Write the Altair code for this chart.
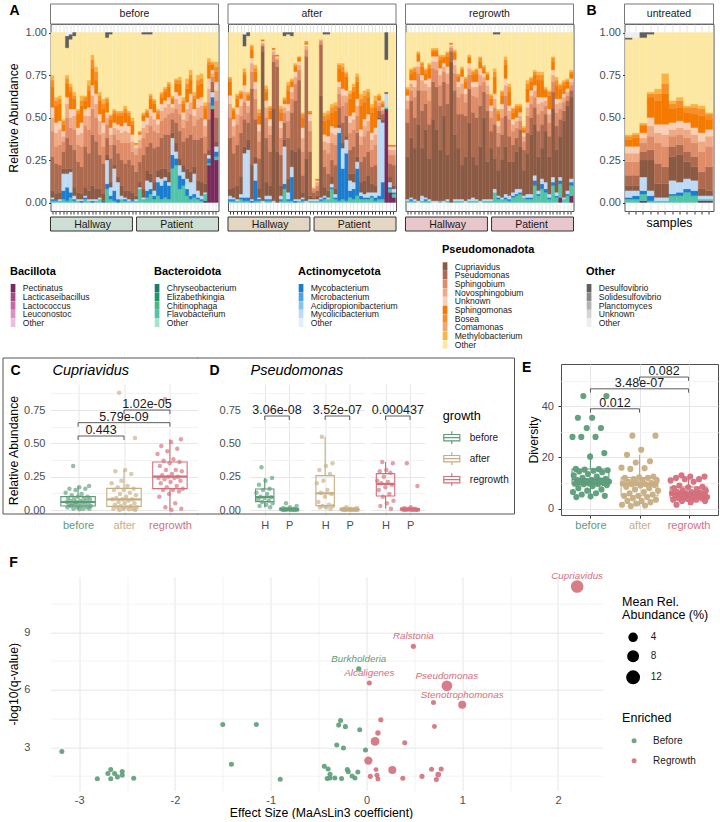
import altair as alt
import numpy as np
import pandas as pd

FONT = "Liberation Sans"

# ---------------- groups / colours ----------------
GROWTH = ["before", "after", "regrowth"]
G_COL = ["#5c9c79", "#c8ad82", "#d36f7b"]
STRIP_FILL = ["#cddfd4", "#e3d6c3", "#e7c7cc"]
LOCATIONS = ["Hallway", "Patient"]

PHYLA = ["Bacillota", "Bacteroidota", "Actinomycetota", "Pseudomonadota", "Other"]
TAXA = [
    ["Pectinatus", "Lacticaseibacillus", "Lactococcus", "Leuconostoc", "Other"],
    ["Chryseobacterium", "Elizabethkingia", "Chitinophaga", "Flavobacterium", "Other"],
    ["Mycobacterium", "Microbacterium", "Acidipropionibacterium", "Mycolicibacterium", "Other"],
    ["Cupriavidus", "Pseudomonas", "Sphingobium", "Novosphingobium", "Unknown",
     "Sphingomonas", "Bosea", "Comamonas", "Methylobacterium", "Other"],
    ["Desulfovibrio", "Solidesulfovibrio", "Planctomyces", "Unknown", "Other"],
]
TAXA_COL = [
    ["#7a2b5e", "#a44a86", "#c46aa6", "#dc90c4", "#eebfdc"],
    ["#1b7d68", "#1a9a6c", "#4cb687", "#52c4a8", "#a8e0d2"],
    ["#1c7cd0", "#4fa3e3", "#86c3ef", "#bedbf5", "#e3eefa"],
    ["#8b5a44", "#ad6a4f", "#df8c69", "#efaa85", "#f8d0b6",
     "#f47a00", "#f98e26", "#f6a56b", "#fab444", "#fde8a3"],
    ["#5e5e5e", "#8a8a8a", "#b2b2b2", "#d5d5d5", "#eeeeee"],
]
KEYS = [("pec", 0, 0), ("bcd", 1, 3), ("myc", 2, 0), ("myl", 2, 3),
        ("cup", 3, 0), ("pse", 3, 1), ("sphb", 3, 2), ("nov", 3, 3), ("unk", 3, 4),
        ("sphm", 3, 5), ("bos", 3, 6), ("met", 3, 8), ("oth", 3, 9),
        ("des", 4, 0), ("oo", 4, 4)]
FULL_KEYS = ["bcd", "myc", "myl", "cup", "pse", "sphb", "nov", "unk", "sphm", "bos", "met"]
SPARSE_KEYS = ["pec", "des", "oo"]

# ---------------- Panel A / B : relative abundance (%) per sample ----------------
BEFORE = dict(
    bcd=[1,1,1,2,1,3,1,1,0,2,1,0,1,2,0,8,2,1,0,2,1,1,1] + [1,8,2,3,5,2,4,2,3,2,20,22,8,10,4,2,3,2,1,4,1,2,2],
    myc=[1,1,0,5,8,3,1,0,1,1,0,1,0,0,1,3,2,6,2,0,1,0,1] + [0,0,0,4,3,2,8,8,10,8,8,4,8,4,4,2,2,1,1,0,3,5,3],
    myl=[1,0,1,10,8,12,2,1,1,1,1,1,1,1,0,14,5,13,10,2,1,1,0] + [1,1,1,6,4,3,3,4,2,2,10,4,6,4,6,8,12,4,2,1,2,3,3],
    cup=[4,3,4,3,3,2,5,4,3,5,5,8,6,5,4,3,3,2,3,6,4,5,4] + [2,3,5,6,5,5,4,6,5,6,3,5,4,4,6,6,4,6,8,5,3,1,3],
    pse=[20,18,16,10,18,14,22,18,16,24,22,30,28,20,18,10,14,12,14,15,16,18,16] + [14,12,20,14,18,20,14,18,20,22,8,12,16,14,18,22,16,24,26,18,18,5,14],
    sphb=[15,10,12,6,12,10,12,10,12,12,14,15,14,12,10,8,8,6,8,10,12,10,8] + [10,8,10,8,10,10,8,10,10,12,4,8,10,8,10,12,8,12,12,10,10,3,10],
    nov=[8,8,9,3,8,6,8,6,8,6,8,8,8,8,8,4,6,4,6,6,7,6,6] + [4,5,6,5,6,7,5,6,6,6,3,6,6,5,7,7,6,7,7,6,8,2,6],
    unk=[6,6,5,3,4,5,4,4,6,4,5,6,6,4,6,3,4,3,3,4,5,4,4] + [2,3,4,4,4,4,3,4,4,4,2,4,5,4,4,5,4,5,5,4,6,2,5],
    sphm=[12,10,10,4,8,10,6,8,10,5,10,10,8,8,8,6,5,5,5,6,6,6,6] + [1,1,3,3,6,5,3,4,5,6,3,5,7,5,8,8,6,8,8,6,8,3,6],
    bos=[4,3,3,2,3,3,2,2,3,2,3,5,5,3,3,2,2,2,2,2,2,2,2] + [0,1,1,1,2,2,2,2,2,2,1,2,2,2,3,3,2,3,3,2,2,1,3],
    met=[3,2,2,1,2,2,2,1,3,1,3,3,3,2,3,1,1,1,1,1,2,1,2] + [0,0,1,1,1,1,1,1,1,1,1,1,2,2,3,3,2,3,3,2,2,1,3],
    pec={42: 1, 43: 22, 44: 55, 45: 25},
    des={4: 7, 5: 3, 6: 2, 15: 3, 16: 1, 25: 1, 26: 1, 27: 1},
    oo={4: 2, 5: 1},
)
AFTER = dict(
    bcd=[1,1,1,2,1,1,0,1,1,0,1,1,0,0,1,8,1,1,0,1,1,0,1] + [1,1,1,2,2,8,2,1,2,1,3,2,4,2,2,2,3,1,2,2,1,2,2],
    myc=[1,1,0,1,2,2,1,12,1,0,1,1,0,0,1,3,1,14,1,0,1,0,0] + [0,0,1,1,0,1,1,40,18,28,4,6,16,2,1,1,1,2,2,10,0,1,1],
    myl=[2,1,1,2,26,28,1,10,1,1,2,2,1,0,2,22,4,6,1,1,1,1,1] + [1,1,1,1,1,2,2,3,12,8,6,4,4,2,2,3,2,3,45,35,8,3,2],
    cup=[4,6,8,10,4,6,20,4,5,88,8,6,54,30,6,4,8,10,28,30,3,25,2] + [1,2,60,5,4,4,3,2,3,2,4,5,3,6,8,10,5,4,1,2,1,3,2],
    pse=[30,20,24,26,16,10,45,22,18,3,26,20,28,50,18,10,24,22,30,40,10,60,26] + [3,3,30,12,10,10,14,10,12,12,14,16,14,12,14,14,10,12,4,3,0,8,12],
    sphb=[12,10,12,10,10,6,10,12,10,1,12,10,4,4,10,6,10,8,10,6,14,4,12] + [2,3,2,10,12,10,12,8,10,8,10,10,10,10,12,12,10,12,3,2,0,5,6],
    nov=[8,6,6,6,6,4,5,6,6,1,6,5,2,1,6,3,6,4,4,3,8,2,6] + [1,2,1,5,6,6,6,4,6,4,6,6,6,5,6,6,6,6,2,1,0,3,3],
    unk=[5,4,4,4,4,3,3,4,4,1,4,4,1,1,4,2,4,3,3,2,6,1,4] + [0,1,0,4,4,4,4,3,4,3,4,4,4,4,4,4,4,4,1,1,0,2,2],
    sphm=[8,5,5,3,6,3,5,6,5,1,5,5,1,1,5,2,8,3,3,2,6,1,1] + [0,1,0,8,10,8,10,8,10,8,10,12,10,14,10,10,12,12,2,2,0,1,1],
    bos=[2,1,2,1,2,1,2,2,2,0,2,2,0,0,2,1,3,1,1,1,2,1,1] + [0,0,0,3,3,3,3,2,3,2,3,3,3,4,4,3,3,4,1,1,0,0,0],
    met=[1,1,1,1,2,1,1,2,2,0,2,1,0,0,2,1,2,1,1,0,1,0,0] + [0,0,0,2,2,2,2,1,2,1,2,2,2,3,3,2,2,3,1,1,0,0,0],
    pec={43: 55, 44: 6, 45: 3},
    des={4: 7, 5: 2, 15: 2, 16: 1, 17: 2, 26: 1, 27: 1, 43: 16},
    oo={4: 1},
)
REGROWTH = dict(
    bcd=[1,1,1,0,1,1,1,0,0,1,0,1,0,1,1,1,0,1,1,1,0,1,1] + [1,6,2,2,2,1,3,4,5,3,2,2,10,4,8,6,2,10,3,8,2,4,6],
    myc=[0,1,0,0,0,1,0,0,0,0,0,0,0,0,0,0,0,0,0,0,0,0,0] + [0,0,1,0,1,1,1,1,1,0,1,1,3,1,3,2,1,2,1,2,0,1,2],
    myl=[1,1,1,1,3,1,1,1,1,0,1,1,0,1,1,1,1,1,2,1,1,1,1] + [1,2,1,1,2,2,2,3,2,1,2,2,3,2,3,4,2,3,2,2,1,2,2],
    cup=[25,35,30,45,28,40,24,48,42,30,50,26,83,38,30,20,26,45,24,20,32,48,22] + [30,18,15,22,28,20,18,22,25,15,24,35,30,20,18,30,22,40,25,24,45,50,48],
    pse=[20,22,18,20,22,15,20,22,25,26,20,30,6,26,20,30,24,20,26,28,24,15,30] + [10,20,14,15,18,15,10,8,10,12,12,10,10,15,14,10,12,10,14,10,6,3,4],
    sphb=[8,6,12,10,12,8,14,8,10,12,6,12,2,10,10,12,8,8,10,12,12,6,10] + [8,10,8,10,12,10,8,6,5,5,10,8,6,10,8,5,8,6,8,6,5,3,3],
    nov=[5,4,6,4,6,4,8,4,5,6,3,6,1,5,6,6,5,4,5,6,6,3,5] + [4,5,4,5,6,5,4,4,3,3,5,5,4,6,5,3,5,4,5,4,3,2,2],
    unk=[3,2,4,3,3,2,5,3,3,4,2,4,1,3,3,4,3,3,3,3,4,2,3] + [3,3,3,3,4,3,3,2,2,2,3,3,3,4,3,2,3,3,3,2,2,2,2],
    sphm=[3,4,5,4,5,4,6,3,3,5,3,6,1,4,3,4,4,3,4,5,4,3,3] + [4,10,4,5,8,8,4,5,3,2,8,5,6,10,10,4,8,5,8,6,5,4,3],
    bos=[1,2,2,1,2,2,2,1,1,2,1,2,0,1,1,1,2,1,2,2,2,1,1] + [2,3,2,2,3,3,2,2,1,1,3,2,2,3,3,1,2,2,3,2,2,1,1],
    met=[1,1,1,1,1,1,1,1,1,1,1,1,0,1,1,1,1,1,1,1,1,1,1] + [1,2,1,1,2,2,1,1,1,1,2,1,1,2,2,1,1,1,2,1,1,1,1],
    pec={42: 3, 45: 4},
    des={24: 1, 25: 1},
    oo={},
)
UNTREATED = dict(
    bcd=[2,2,4,1,1,1,4,4,6,4,1,1],
    myc=[1,2,2,3,0,0,1,2,2,3,0,0],
    myl=[4,3,8,3,2,2,8,6,6,6,2,2],
    cup=[3,3,10,18,8,8,14,16,10,8,4,3],
    pse=[6,6,5,6,12,10,6,6,6,6,10,14],
    sphb=[8,8,5,8,12,12,6,6,8,8,12,12],
    nov=[5,5,3,6,6,7,4,4,5,5,6,6],
    unk=[4,4,3,5,5,6,4,4,4,4,5,4],
    sphm=[4,5,4,12,14,18,8,8,6,8,10,6],
    bos=[2,2,1,2,4,6,3,4,3,4,4,3],
    met=[1,1,1,1,3,6,2,2,1,2,2,1],
    pec={2: 1, 10: 1, 11: 1},
    des={0: 1, 2: 3, 3: 1},
    oo={0: 3, 1: 3},
)

# ---------------- Panel C : Cupriavidus relative abundance ----------------
CUP_BEFORE = [0.33, 0.18, 0.17, 0.16, 0.16, 0.15, 0.13, 0.12, 0.11, 0.10, 0.10, 0.09, 0.09, 0.08, 0.08,
              0.07, 0.07, 0.07, 0.06, 0.06, 0.06, 0.05, 0.05, 0.05, 0.04, 0.04, 0.04, 0.03, 0.03, 0.03,
              0.02, 0.02, 0.02, 0.01, 0.01, 0.01, 0.005]
CUP_AFTER = [0.88, 0.54, 0.30, 0.29, 0.27, 0.22, 0.20, 0.18, 0.17, 0.16, 0.15, 0.15, 0.13, 0.12, 0.11,
             0.10, 0.09, 0.08, 0.08, 0.08, 0.07, 0.06, 0.05, 0.05, 0.04, 0.03, 0.03, 0.02, 0.02, 0.02,
             0.01, 0.01, 0.01, 0.005, 0.0, 0.0]
CUP_REGROWTH = [0.83, 0.53, 0.51, 0.48, 0.46, 0.44, 0.42, 0.38, 0.37, 0.36, 0.35, 0.33, 0.30, 0.30, 0.29,
                0.27, 0.26, 0.25, 0.25, 0.24, 0.24, 0.23, 0.22, 0.21, 0.20, 0.18, 0.17, 0.16, 0.15, 0.15,
                0.14, 0.12, 0.10, 0.05, 0.02, 0.01, 0.0]
C_BRACKETS = [(1, 2, 0.555, "0.443"), (1, 3, 0.655, "5.79e-09"), (2, 3, 0.75, "1.02e-05")]

# ---------------- Panel D : Pseudomonas, Hallway (H) vs Patient (P) ----------------
PSE_H = [
    [0.32, 0.24, 0.22, 0.19, 0.16, 0.15, 0.13, 0.12, 0.10, 0.095, 0.09, 0.08, 0.07, 0.06, 0.05, 0.04, 0.03, 0.02],
    [0.55, 0.35, 0.33, 0.30, 0.27, 0.22, 0.20, 0.15, 0.13, 0.12, 0.10, 0.06, 0.04, 0.03, 0.03, 0.02, 0.02, 0.01],
    [0.36, 0.35, 0.30, 0.29, 0.28, 0.25, 0.22, 0.21, 0.20, 0.19, 0.17, 0.15, 0.12, 0.10, 0.07, 0.05, 0.03, 0.01],
]
PSE_P = [
    [0.05, 0.03, 0.02, 0.015, 0.01, 0.01, 0.008, 0.005, 0.005, 0.004, 0.003, 0.002, 0.002, 0.001, 0.001, 0.0, 0.0, 0.0],
    [0.02, 0.015, 0.01, 0.01, 0.008, 0.006, 0.005, 0.004, 0.003, 0.003, 0.002, 0.002, 0.001, 0.001, 0.0, 0.0, 0.0, 0.0],
    [0.35, 0.18, 0.02, 0.015, 0.01, 0.01, 0.008, 0.006, 0.005, 0.004, 0.003, 0.002, 0.002, 0.001, 0.0, 0.0, 0.0, 0.0],
]
D_PVALS = ["3.06e-08", "3.52e-07", "0.000437"]
D_BRACKET_Y = 0.705
SITES = ["H", "P"]

# ---------------- Panel E : diversity ----------------
DIV_BEFORE = [44, 44, 35.5, 35.5, 31.5, 31.5, 28, 28, 28, 21.7, 20.3,
              15.5, 15.4, 15.2, 15, 14.8, 14.5, 14.2, 13.5, 13, 12.5, 12, 11.6,
              11.2, 11.1, 11, 10.8, 10.6, 10.4, 10.2, 10, 9.8, 9.7, 9.6, 9.5, 9.2,
              8.8, 8, 7.5, 7, 6.5, 6, 5.5, 5, 4.8, 4.5]
DIV_AFTER = [28.5, 28.5, 23, 21, 18.5, 18, 16, 15.8, 15.5, 12.5, 12.2, 12, 12, 11.5, 11, 11, 10.5,
             10, 10, 9.8, 9.5, 9.5, 9.2, 9, 8.5, 8, 7.5, 7, 6.5, 6, 5.5, 5, 5, 4.5, 4, 3.5, 3, 3,
             2.5, 2, 1.5, 1.2, 1]
DIV_REGROWTH = [13, 12.5, 12.5, 12, 11.5, 11.5, 11, 10.5, 9, 8.5, 8.3, 8, 7.5, 7, 7, 6.5, 6.5, 6.2,
                6, 6, 5.8, 5.5, 5.5, 5, 5, 5, 4.5, 4.5, 4.2, 4, 4, 3.8, 3.5, 3.5, 3, 3, 2.5, 1.5]
E_BRACKETS = [(1, 2, 39, "0.012"), (1, 3, 46.8, "3.48e-07"), (2, 3, 51.4, "0.082")]

# ---------------- Panel F : MaAsLin3 ----------------
F_COEF = [-3.18, -2.81, -2.70, -2.67, -2.67, -2.63, -2.60, -2.55, -2.55, -2.43, -1.50, -1.15, -1.41, -0.90,
          -0.44, -0.40, -0.27, -0.29, -0.22, -0.31, -0.24, -0.07, -0.01, -0.38, -0.41, -0.38, -0.33, -0.26,
          -0.20, -0.19, -0.15, -0.12, -0.09, -0.08,
          2.20, 0.49, 0.03, 0.84, 1.00, 0.70, 0.15, 0.71, 0.12, 0.09, 0.40, 0.02, 0.27, 0.10, 0.11, 0.12,
          0.04, 0.38, 0.58, 0.68, 0.78, 0.75, 0.73]
F_NEGLOGQ = [2.78, 1.36, 1.64, 1.85, 1.36, 1.64, 1.46, 1.74, 1.55, 1.39, 4.19, 4.19, 2.12, 1.34,
             2.01, 1.87, 4.40, 4.16, 4.08, 3.12, 2.97, 3.92, 2.86, 1.60, 1.37, 1.40, 1.40, 1.37,
             1.84, 1.73, 1.51, 1.40, 1.72, 7.09,
             11.39, 8.27, 6.36, 6.21, 5.22, 5.34, 4.44, 4.09, 3.75, 3.31, 3.24, 2.31, 1.82, 1.84, 1.54, 1.35,
             1.49, 1.39, 1.49, 1.86, 1.87, 1.58, 1.32]
F_ABUND = [0.5] * 33 + [0.8] + [12.5, 0.6, 0.5, 8.5, 4.0, 0.5, 0.6, 0.4, 0.8, 5.2, 0.5, 4.3, 4.0, 0.4, 0.5,
                               0.4, 0.6, 0.5, 0.6, 0.5, 0.5, 1.2, 0.5]
F_ENRICHED = ["Before"] * 34 + ["Regrowth"] * 23
F_LABEL = [""] * 33 + ["Burkholderia"] + ["Cupriavidus", "Ralstonia", "Alcaligenes", "Pseudomonas",
                                          "Stenotrophomonas"] + [""] * 18


# ======================= helpers =======================
def jitter(k):
    return ((k * 0.6180339887 + 0.31) % 1.0) * 2 - 1


def long_df(fd, n):
    rows = []
    for i in range(n):
        vals = {k: fd[k][i] for k in FULL_KEYS}
        for k in SPARSE_KEYS:
            vals[k] = fd.get(k, {}).get(i, 0)
        vals["oth"] = max(100 - sum(vals.values()), 0)
        for key, p, t in KEYS:
            v = vals[key]
            if v > 0:
                rows.append(dict(sample=i, taxon=TAXA[p][t], value=v / 100.0,
                                 order=p * 10 + t, hex=TAXA_COL[p][t]))
    return pd.DataFrame(rows)


def text_layer(txt, x, y, size=14, weight="bold", style="normal", align="left", color="black"):
    return alt.Chart(pd.DataFrame({"t": [txt]})).mark_text(
        fontSize=size, fontWeight=weight, fontStyle=style, align=align, baseline="middle", color=color
    ).encode(text="t:N", x=alt.value(x), y=alt.value(y))


def frame_rule(x1, x2, y1, y2):
    # one edge of the outline framing panels C and D
    return alt.Chart(pd.DataFrame({"t": ["edge"]})).mark_rule(color="#555", strokeWidth=1).encode(
        x=alt.value(x1), x2=alt.value(x2), y=alt.value(y1), y2=alt.value(y2))


def panel_a(name, fd, n, width, strip_fill=None, ylab=False, ytitle=None, letter=None, letter_x=-41,
            xtitle=None):
    df = long_df(fd, n)
    if ylab:
        ykw = dict(values=[0, 0.25, 0.5, 0.75, 1], format=".2f", tickSize=2, tickColor="#333",
                   labelFontSize=11, labelColor="#4d4d4d", labelPadding=2, domain=False, grid=False,
                   titleFontSize=12.3, titleFontWeight="normal", titleColor="black", titlePadding=5)
        ykw["title"] = ytitle
        yaxis = alt.Axis(**ykw)
    else:
        yaxis = None
    xkw = dict(labels=False, tickSize=3, tickColor="#333", domain=False, grid=True, gridColor="#e6e6e6",
               titleFontSize=12.3, titleFontWeight="normal", titleColor="black", titlePadding=2)
    xkw["title"] = xtitle
    bars = alt.Chart(df).mark_bar(strokeWidth=0.35).encode(
        x=alt.X("sample:O", scale=alt.Scale(paddingInner=0, paddingOuter=0.1), axis=alt.Axis(**xkw)),
        y=alt.Y("value:Q", stack="zero", scale=alt.Scale(domain=[-0.05, 1.05], nice=False, zero=False),
                axis=yaxis),
        color=alt.Color("hex:N", scale=None),
        stroke=alt.Stroke("hex:N", scale=None),
        order=alt.Order("order:Q", sort="ascending"),
    )
    hdr = pd.DataFrame({"name": [name]})
    head_rect = alt.Chart(hdr).mark_rect(fill="white", stroke="#777", strokeWidth=1).encode(
        x=alt.value(0), x2=alt.value(width), y=alt.value(-20), y2=alt.value(0))
    head_txt = alt.Chart(hdr).mark_text(fontSize=10.5, color="#1a1a1a").encode(
        text="name:N", x=alt.value(width / 2), y=alt.value(-10))
    layers = [bars, head_rect, head_txt]
    if strip_fill is not None:
        sdf = pd.DataFrame({"grp": LOCATIONS})
        sx = alt.X("grp:N", sort=LOCATIONS, scale=alt.Scale(paddingInner=0.048, paddingOuter=0), axis=None)
        layers.append(alt.Chart(sdf).mark_rect(fill=strip_fill, stroke="#333", strokeWidth=1).encode(
            x=sx, y=alt.value(193), y2=alt.value(207)))
        layers.append(alt.Chart(sdf).mark_text(fontSize=10.5, color="#1a1a1a").encode(
            x=sx, y=alt.value(200.5), text="grp:N"))
    if letter:
        layers.append(text_layer(letter, letter_x, -13))
    return alt.layer(*layers).resolve_scale(x="independent").properties(
        width=width, height=187, view=alt.ViewBackground(stroke="#555", strokeWidth=1))


def box_stats(groups, positions, lists, hexes, half):
    rows = []
    for g, p, vals, hx in zip(groups, positions, lists, hexes):
        a = np.array(vals, dtype=float)
        q1, med, q3 = np.percentile(a, [25, 50, 75])
        iqr = q3 - q1
        rows.append(dict(growth=g, pos=p, lo=p - half, hi=p + half, q1=q1, med=med, q3=q3,
                         whi=a[a <= q3 + 1.5 * iqr].max(), wlo=a[a >= q1 - 1.5 * iqr].min(), hex=hx))
    return pd.DataFrame(rows)


def points_df(positions, lists, hexes, spread):
    rows = []
    for p, vals, hx in zip(positions, lists, hexes):
        for k, v in enumerate(vals):
            rows.append(dict(pos=p, val=v, xj=p + jitter(k) * spread, hex=hx))
    return pd.DataFrame(rows)


def box_panel(stats, pts, brs, drop, xs, xa, ys, ya, pt_size, pt_op, box_stroke=None, extra=()):
    def X(f):
        return alt.X(f, scale=xs, axis=xa)

    def Y(f):
        return alt.Y(f, scale=ys, axis=ya)

    hexc = alt.Color("hex:N", scale=None)
    base = alt.Chart(stats)
    if box_stroke is None:
        box = base.mark_bar(filled=False, strokeWidth=1.1).encode(
            x=X("lo:Q"), x2="hi:Q", y=Y("q1:Q"), y2="q3:Q", color=hexc)
    else:
        box = base.mark_bar(filled=False, strokeWidth=1.1).encode(
            x=X("lo:Q"), x2="hi:Q", y=Y("q1:Q"), y2="q3:Q", stroke=box_stroke)
    up = base.mark_rule(strokeWidth=1.1).encode(x=X("pos:Q"), y=Y("q3:Q"), y2="whi:Q", color=hexc)
    lo = base.mark_rule(strokeWidth=1.1).encode(x=X("pos:Q"), y=Y("wlo:Q"), y2="q1:Q", color=hexc)
    med = base.mark_rule(strokeWidth=2.2).encode(x=X("lo:Q"), x2="hi:Q", y=Y("med:Q"), color=hexc)
    ptl = alt.Chart(pts).mark_circle(size=pt_size, opacity=pt_op).encode(
        x=X("xj:Q"), y=Y("val:Q"), color=hexc)
    layers = [box, up, lo, med, ptl]
    if brs:
        hdf = pd.DataFrame([dict(x1=a, x2=b, xm=(a + b) / 2, h=y, label=t) for a, b, y, t in brs])
        ddf = pd.DataFrame([dict(x=x, h=y, hl=y - drop) for a, b, y, t in brs for x in (a, b)])
        layers += [
            alt.Chart(hdf).mark_rule(color="#333", strokeWidth=0.8).encode(x=X("x1:Q"), x2="x2:Q", y=Y("h:Q")),
            alt.Chart(ddf).mark_rule(color="#333", strokeWidth=0.8).encode(x=X("x:Q"), y=Y("h:Q"), y2="hl:Q"),
            alt.Chart(hdf).mark_text(fontSize=12.5, color="#1a1a1a", baseline="alphabetic", dy=-2).encode(
                x=X("xm:Q"), y=Y("h:Q"), text="label:N"),
        ]
    layers += list(extra)
    return alt.layer(*layers)


def label_expr(names):
    parts = " : ".join(["datum.value == %d ? '%s'" % (i + 1, nm) for i, nm in enumerate(names[:-1])])
    return parts + " : '%s'" % names[-1]


def indep(c):
    return c.resolve_scale(color="independent", stroke="independent", size="independent")


GROWTH_LABEL_COLOR = {"condition": [{"test": "datum.value == 1", "value": G_COL[0]},
                                    {"test": "datum.value == 2", "value": G_COL[1]}],
                      "value": G_COL[2]}
MINOR_Q = {"condition": {"test": "(datum.value * 4) % 1 != 0", "value": "#f3f3f3"}, "value": "#e6e6e6"}

# ======================= Row A =======================
before = panel_a("before", BEFORE, 46, 168, STRIP_FILL[0], ylab=True, ytitle="Relative Abundance", letter="A")
after = panel_a("after", AFTER, 46, 168, STRIP_FILL[1])
regrowth = panel_a("regrowth", REGROWTH, 46, 168, STRIP_FILL[2])
untreated = panel_a("untreated", UNTREATED, 12, 89, None, ylab=True, ytitle=None, letter="B", letter_x=-38,
                    xtitle="samples")
row_a = alt.hconcat(alt.hconcat(before, after, regrowth, spacing=7.5), untreated, spacing=11)

# ======================= taxonomy legend (one chart) =======================
leg_rows, head_rows = [], []
for pi, ph in enumerate(PHYLA):
    first = 2.54 if len(TAXA[pi]) == 10 else 5.04
    head_rows.append(dict(phylum=ph, r=first - 1.85))
    for i, (nm, hx) in enumerate(zip(TAXA[pi], TAXA_COL[pi])):
        leg_rows.append(dict(phylum=ph, taxon=nm, hex=hx, r=first + i))
leg_df = pd.DataFrame(leg_rows)
head_df = pd.DataFrame(head_rows)
LX = alt.X("phylum:N", sort=PHYLA, axis=None,
           scale=alt.Scale(type="point", domain=PHYLA, range=[-42.5, 533.5], padding=0))
LY = alt.Y("r:Q", axis=None, scale=alt.Scale(domain=[0, 106 / 8.67], reverse=True, nice=False, zero=False))
KEY_SHAPE = "M-0.54,-0.97H0.54V0.97H-0.54Z"
leg_keys = alt.Chart(leg_df).mark_point(shape=KEY_SHAPE, size=75.7, filled=True, opacity=1, strokeWidth=0,
                                        xOffset=5.05).encode(x=LX, y=LY, color=alt.Color("hex:N", scale=None))
leg_labs = alt.Chart(leg_df).mark_text(align="left", baseline="middle", fontSize=8.6, dx=14.7,
                                       color="#1a1a1a").encode(x=LX, y=LY, text="taxon:N")
leg_head = alt.Chart(head_df).mark_text(align="left", baseline="middle", fontSize=11, fontWeight="bold",
                                        dx=2, color="black").encode(x=LX, y=LY, text="phylum:N")
row_leg = alt.layer(leg_keys, leg_labs, leg_head).properties(width=660, height=106)

# ======================= Row C / D / E =======================
CY = alt.Scale(domain=[-0.045, 0.945], nice=False, zero=False)
QVALS = [0, 0.125, 0.25, 0.375, 0.5, 0.625, 0.75, 0.875]
QLAB = "(datum.value * 4) % 1 == 0 ? format(datum.value, '.2f') : ''"
FR_TOP, FR_BOT = -26, 130      # outline box edges, relative to the C/D plot top

c_stats = box_stats(GROWTH, [1, 2, 3], [CUP_BEFORE, CUP_AFTER, CUP_REGROWTH], G_COL, 0.375)
c_pts = points_df([1, 2, 3], [CUP_BEFORE, CUP_AFTER, CUP_REGROWTH], G_COL, 0.28)
c_xa = alt.Axis(values=[1, 2, 3], labelExpr=label_expr(GROWTH), labelColor=GROWTH_LABEL_COLOR,
                labelFontSize=11, ticks=False, domain=False, grid=True, gridColor="#e6e6e6",
                labelPadding=3.5, title=None, labelOverlap=False)
c_ya = alt.Axis(values=QVALS, labelExpr=QLAB, gridColor=MINOR_Q, ticks=False, domain=False,
                labelFontSize=11, labelColor="#4d4d4d", labelPadding=5.5, labelOverlap=False,
                title="Relative Abundance", titleFontSize=12.3, titleFontWeight="normal",
                titleColor="black", titlePadding=2.8)
panel_c = box_panel(c_stats, c_pts, C_BRACKETS, 0.03,
                    alt.Scale(domain=[0.4, 3.6], nice=False, zero=False), c_xa, CY, c_ya, 20, 0.65,
                    extra=[frame_rule(-47.5, -47.5, FR_TOP, FR_BOT),
                           frame_rule(-47.5, 147.5, FR_TOP, FR_TOP),
                           frame_rule(-47.5, 147.5, FR_BOT, FR_BOT),
                           text_layer("C", -40, -13),
                           text_layer("Cupriavidus", 2, -13, size=14.5, weight="normal", style="italic")]
                    ).properties(width=147, height=132)

GLYPH = "M-1,-0.4H1V0.4H-1Z M0,-0.8V-0.4 M0,0.4V0.8 M-1,0H1"
D_EDGE = [(-52.5, 57.2), (-3.2, 57.2), (-3.2, 143.7)]   # horizontal extent of the outline in each D panel
d_panels = []
for gi, g in enumerate(GROWTH):
    st = box_stats([g, g], [1, 2], [PSE_H[gi], PSE_P[gi]], [G_COL[gi]] * 2, 0.375)
    pt = points_df([1, 2], [PSE_H[gi], PSE_P[gi]], [G_COL[gi]] * 2, 0.35)
    xa = alt.Axis(values=[1, 2], labelExpr=label_expr(SITES), labelColor="#4d4d4d", labelFontSize=11,
                  ticks=False, domain=False, grid=True, gridColor="#e6e6e6", labelPadding=3.5, title=None)
    ex0, ex1 = D_EDGE[gi]
    extra = [frame_rule(ex0, ex1, FR_TOP, FR_TOP), frame_rule(ex0, ex1, FR_BOT, FR_BOT)]
    if gi == 0:
        ya = alt.Axis(values=QVALS, labelExpr=QLAB, gridColor=MINOR_Q, ticks=False, domain=False,
                      labelFontSize=11, labelColor="#4d4d4d", labelPadding=9.5, labelOverlap=False, title=None)
        extra += [text_layer("D", -40.5, -13),
                  text_layer("Pseudomonas", 0.5, -13, size=14.5, weight="normal", style="italic")]
    else:
        ya = alt.Axis(values=QVALS, labels=False, gridColor=MINOR_Q, ticks=False, domain=False, title=None)
    stroke = None
    if gi == 2:
        extra.append(frame_rule(ex1, ex1, FR_TOP, FR_BOT))
        stroke = alt.Stroke("growth:N", scale=alt.Scale(domain=GROWTH, range=G_COL),
                            legend=alt.Legend(title="growth", orient="none", legendX=72, legendY=26,
                                              symbolType=GLYPH, symbolSize=256, symbolStrokeWidth=1.2,
                                              symbolFillColor="transparent", titleFontSize=12.7,
                                              titleFontWeight="normal", titleColor="black",
                                              labelFontSize=10, labelColor="#1a1a1a", rowPadding=3,
                                              titlePadding=6, labelOffset=9, padding=0))
    d_panels.append(box_panel(st, pt, [(1, 2, D_BRACKET_Y, D_PVALS[gi])], 0.03,
                              alt.Scale(domain=[0.4, 2.6], nice=False, zero=False), xa, CY, ya, 20, 0.65,
                              box_stroke=stroke, extra=extra).properties(width=54, height=132))
panel_d = indep(alt.hconcat(*d_panels, spacing=6.4, bounds="flush"))

e_stats = box_stats(GROWTH, [1, 2, 3], [DIV_BEFORE, DIV_AFTER, DIV_REGROWTH], G_COL, 0.375)
e_pts = points_df([1, 2, 3], [DIV_BEFORE, DIV_AFTER, DIV_REGROWTH], G_COL, 0.38)
e_xa = alt.Axis(values=[1, 2, 3], labelExpr=label_expr(GROWTH), labelColor=GROWTH_LABEL_COLOR,
                labelFontSize=11, tickSize=3, tickColor="#333", domain=False, grid=True, gridColor="#e6e6e6",
                labelPadding=1.5, title=None, labelOverlap=False)
e_ya = alt.Axis(values=[0, 10, 20, 30, 40, 50], labelExpr="datum.value % 20 == 0 ? '' + datum.value : ''",
                gridColor={"condition": {"test": "datum.value % 20 != 0", "value": "#f3f3f3"}, "value": "#e6e6e6"},
                tickOpacity={"condition": {"test": "datum.value % 20 != 0", "value": 0}, "value": 1},
                tickSize=3, tickColor="#333", domain=False, labelFontSize=11, labelColor="#4d4d4d",
                labelPadding=4.5, labelOverlap=False, title="Diversity", titleFontSize=12.3,
                titleFontWeight="normal", titleColor="black", titlePadding=1)
panel_e = box_panel(e_stats, e_pts, E_BRACKETS, 1.5,
                    alt.Scale(domain=[0.4, 3.6], nice=False, zero=False), e_xa,
                    alt.Scale(domain=[-2.5, 56.5], nice=False, zero=False), e_ya, 38, 0.95,
                    extra=[text_layer("E", -39, 4)]).properties(
    width=157, height=151, view=alt.ViewBackground(stroke="#4d4d4d", strokeWidth=1))

spacer = alt.Chart(pd.DataFrame({"t": [""]})).mark_text().encode(
    text="t:N", x=alt.value(0), y=alt.value(0)).properties(width=1, height=1)
cd = indep(alt.hconcat(panel_c, panel_d, spacing=-1.5))
cd_col = indep(alt.vconcat(spacer, cd, spacing=-12))
row_cde = indep(alt.hconcat(cd_col, panel_e, spacing=5.5))

# ======================= Row F =======================
f_df = pd.DataFrame({"coef": F_COEF, "q": F_NEGLOGQ, "abund": F_ABUND, "enriched": F_ENRICHED,
                     "label": F_LABEL})
FXS = alt.Scale(domain=[-3.299, 2.47], nice=False, zero=False)
FYS = alt.Scale(domain=[0.74, 11.9], nice=False, zero=False)
f_xa = alt.Axis(values=[-3, -2.5, -2, -1.5, -1, -0.5, 0, 0.5, 1, 1.5, 2],
                labelExpr="datum.value % 1 == 0 ? '' + datum.value : ''",
                gridColor={"condition": {"test": "datum.value % 1 != 0", "value": "#f3f3f3"}, "value": "#e6e6e6"},
                ticks=False, domain=False, labelFontSize=11, labelColor="#4d4d4d", labelPadding=3.5,
                labelOverlap=False, labelFlush=False, title="Effect Size (MaAsLin3 coefficient)",
                titleFontSize=12.3, titleFontWeight="normal", titleColor="black", titlePadding=1,
                titleX=270.5)
f_ya = alt.Axis(values=[1.5, 3, 4.5, 6, 7.5, 9, 10.5],
                labelExpr="datum.value % 3 == 0 ? '' + datum.value : ''",
                gridColor={"condition": {"test": "datum.value % 3 != 0", "value": "#f3f3f3"}, "value": "#e6e6e6"},
                ticks=False, domain=False, labelFontSize=11, labelColor="#4d4d4d", labelPadding=4.7,
                labelOverlap=False, labelFlush=False, title="-log10(q-value)", titleFontSize=12.3,
                titleFontWeight="normal", titleColor="black", titlePadding=3, offset=16)
f_pts = alt.Chart(f_df).mark_circle(opacity=0.9).encode(
    x=alt.X("coef:Q", scale=FXS, axis=f_xa),
    y=alt.Y("q:Q", scale=FYS, axis=f_ya),
    color=alt.Color("enriched:N", scale=alt.Scale(domain=["Before", "Regrowth"], range=[G_COL[0], G_COL[2]]),
                    legend=alt.Legend(title="Enriched", orient="none", legendX=571.6, legendY=135.6,
                                      symbolType="circle", symbolSize=25, titleFontSize=12.5,
                                      titleFontWeight="normal", titleColor="black", titlePadding=11,
                                      labelFontSize=10, labelColor="#1a1a1a", rowPadding=10,
                                      symbolOffset=7, labelOffset=14, padding=0)),
    size=alt.Size("abund:Q", scale=alt.Scale(domain=[0, 13], range=[20, 165]),
                  legend=alt.Legend(title=["Mean Rel.", "Abundance (%)"], values=[4, 8, 12], orient="none",
                                    legendX=571.6, legendY=19.6, symbolFillColor="black",
                                    symbolStrokeColor="black", symbolOpacity=1, titleFontSize=12.5,
                                    titleFontWeight="normal", titleColor="black", titleLineHeight=13,
                                    titlePadding=10.5, labelFontSize=10, labelColor="#1a1a1a",
                                    rowPadding=2, symbolOffset=4, labelOffset=10.6, padding=0)),
)
f_labs = []
for grp, col in [("Before", G_COL[0]), ("Regrowth", G_COL[2])]:
    f_labs.append(alt.Chart(f_df).transform_filter(
        "datum.label != '' && datum.enriched == '%s'" % grp).mark_text(
        dy=-10, fontStyle="italic", fontSize=9.8, color=col).encode(
        x=alt.X("coef:Q", scale=FXS, axis=f_xa), y=alt.Y("q:Q", scale=FYS, axis=f_ya), text="label:N"))
panel_f = alt.layer(f_pts, *f_labs, text_layer("F", -41.2, -14.2)).properties(width=552.5, height=214)
row_f = indep(alt.hconcat(panel_f))

level1 = indep(alt.vconcat(row_a, row_leg, spacing=11.5))
level2 = indep(alt.vconcat(level1, row_cde, spacing=6))
chart = indep(alt.vconcat(level2, row_f, spacing=23.7)).properties(
    padding={"left": 2.5, "top": 3, "right": 0, "bottom": 0}
).configure(font=FONT).configure_view(stroke=None)

chart.save("out.html", embed_options={"renderer": "svg", "actions": False})
